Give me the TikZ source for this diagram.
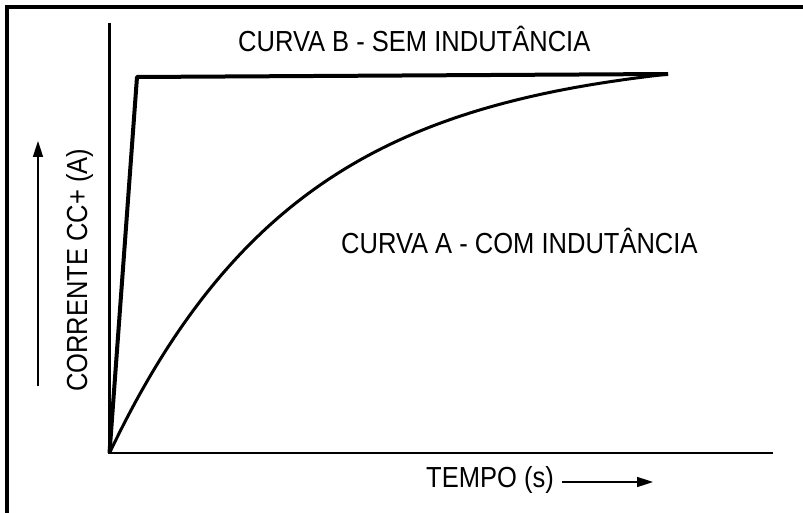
\documentclass[tikz,border=0pt]{standalone}
\usepackage{fontspec}
\setmainfont{Liberation Sans}[FakeStretch=0.88]
\usetikzlibrary{arrows.meta}
\begin{document}
\begin{tikzpicture}[x=1pt,y=-1pt,
  lbl/.style={font=\fontsize{29}{29}\selectfont, inner sep=0pt, anchor=base west},
  axisline/.style={line width=2.2pt},
  curveB/.style={line width=4pt, line join=round},
  curveA/.style={line width=3pt},
  thinarrow/.style={line width=1.6pt, -{Triangle[length=16pt,width=10pt]}},
  frameline/.style={line width=4pt, line join=miter}]
\useasboundingbox (0,0) rectangle (803,513);
\fill[white] (0,0) rectangle (803,513);
% frame
\coordinate (F1) at (6.5,513);
\coordinate (F2) at (6.5,7.5);
\coordinate (F3) at (803,7.5);
\draw[frameline] (F1) -- (F2) -- (F3);
% axes
\coordinate (O) at (109.5,453);
\coordinate (Ytop) at (109.5,23);
\coordinate (Xend) at (773,453);
\draw[axisline] (Ytop) -- (O) -- (Xend);
% curve B
\coordinate (B1) at (137,77);
\coordinate (B2) at (668,74);
\draw[curveB] (O) -- (B1) -- (B2);
% curve A (exponential rise from O to B2)
\draw[curveA] plot[domain=0:558.5, samples=120, smooth]
  ({109.5+\x},{453-400*(1-exp(-\x/190))});
% labels
\node[lbl] (lblB) at (238,52) {CURVA B - SEM INDUTÂNCIA};
\node[lbl] (lblA) at (341,253) {CURVA A - COM INDUTÂNCIA};
\node[lbl] (tempo) at (426,487) {TEMPO (s)};
\node[lbl, rotate=90] (corrente) at (87,392) {CORRENTE CC+ (A)};
% arrows
\coordinate (U1) at (38,386);
\coordinate (U2) at (38,141);
\draw[thinarrow] (U1) -- (U2);
\coordinate (R1) at (562,482);
\coordinate (R2) at (653,482);
\draw[thinarrow] (R1) -- (R2);
\end{tikzpicture}
\end{document}
